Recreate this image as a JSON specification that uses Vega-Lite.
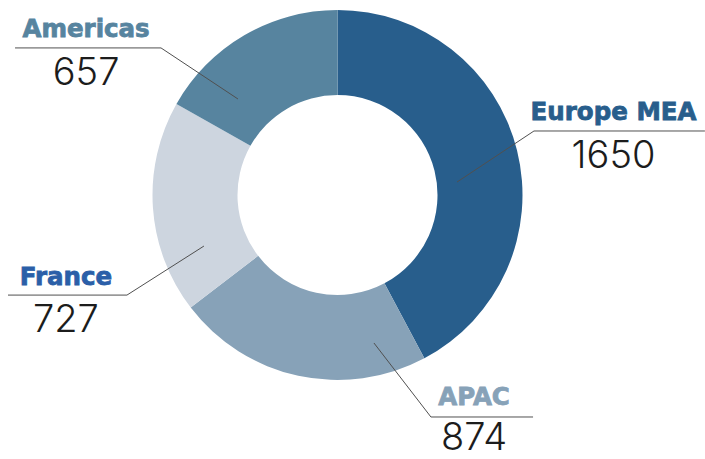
{
  "$schema": "https://vega.github.io/schema/vega-lite/v6.json",
  "width": 675,
  "height": 390,
  "autosize": {"type": "none"},
  "padding": {"left": 0, "top": 0, "right": 30, "bottom": 69},
  "background": "white",
  "config": {"view": {"stroke": null}},
  "data": {
    "values": [
      {"region": "Europe MEA", "value": 1650},
      {"region": "APAC", "value": 874},
      {"region": "France", "value": 727},
      {"region": "Americas", "value": 657}
    ]
  },
  "transform": [
    {"calculate": "indexof(['Europe MEA','APAC','France','Americas'], datum.region)", "as": "i"},
    {"calculate": "[64.6, 19.7, -72.2, -53.8][datum.i]", "as": "ax"},
    {"calculate": "[7.0, -80.0, -27.6, 51.9][datum.i]", "as": "ay"},
    {"calculate": "[106.2, 50.5, -113.8, -95.4][datum.i]", "as": "bx"},
    {"calculate": "[34.6, -120.0, -54.1, 79.5][datum.i]", "as": "by"},
    {"calculate": "[198.6, 105.7, -178.1, -174.3][datum.i]", "as": "cx"},
    {"calculate": "[149.2, 73.8, -146.8, -135.9][datum.i]", "as": "tx"},
    {"calculate": "[40.5, -113.5, -48.6, 85.4][datum.i]", "as": "ty"},
    {"calculate": "[14.6, -137.8, -74.1, 59.5][datum.i]", "as": "vy"}
  ],
  "layer": [
    {
      "mark": {"type": "arc", "outerRadius": 185, "innerRadius": 100},
      "encoding": {
        "theta": {"field": "value", "type": "quantitative", "stack": true},
        "order": {"field": "value", "type": "quantitative", "sort": "descending"},
        "color": {
          "field": "region", "type": "nominal", "legend": null,
          "scale": {"domain": ["Europe MEA", "APAC", "France", "Americas"], "range": ["#285e8c", "#87a2b8", "#cdd5df", "#57849f"]}
        }
      }
    },
    {
      "mark": {"type": "rule", "color": "#505050", "strokeWidth": 1},
      "encoding": {
        "x": {"field": "ax", "type": "quantitative", "axis": null, "scale": {"domain": [-182.43, 182.43], "nice": false, "zero": false}},
        "y": {"field": "ay", "type": "quantitative", "axis": null, "scale": {"domain": [-105.41, 105.41], "nice": false, "zero": false}},
        "x2": {"field": "bx"},
        "y2": {"field": "by"}
      }
    },
    {
      "mark": {"type": "rule", "color": "#505050", "strokeWidth": 1},
      "encoding": {
        "x": {"field": "bx", "type": "quantitative", "axis": null, "scale": {"domain": [-182.43, 182.43], "nice": false, "zero": false}},
        "y": {"field": "by", "type": "quantitative", "axis": null, "scale": {"domain": [-105.41, 105.41], "nice": false, "zero": false}},
        "x2": {"field": "cx"}
      }
    },
    {
      "mark": {"type": "text", "font": "DejaVu Sans", "fontWeight": "bold", "fontSize": 24.5, "strokeWidth": 0.8, "align": "center", "baseline": "alphabetic"},
      "encoding": {
        "x": {"field": "tx", "type": "quantitative", "axis": null, "scale": {"domain": [-182.43, 182.43], "nice": false, "zero": false}},
        "y": {"field": "ty", "type": "quantitative", "axis": null, "scale": {"domain": [-105.41, 105.41], "nice": false, "zero": false}},
        "text": {"field": "region"},
        "color": {
          "condition": {"test": "datum.region === 'France'", "value": "#2b5fa8"},
          "field": "region", "type": "nominal", "legend": null
        },
        "stroke": {
          "condition": {"test": "datum.region === 'France'", "value": "#2b5fa8"},
          "field": "region", "type": "nominal", "legend": null,
          "scale": {"domain": ["Europe MEA", "APAC", "France", "Americas"], "range": ["#285e8c", "#87a2b8", "#cdd5df", "#57849f"]}
        }
      }
    },
    {
      "mark": {"type": "text", "font": "Inter", "fontWeight": 300, "fontSize": 38, "align": "center", "baseline": "alphabetic", "color": "#1c1c1c"},
      "encoding": {
        "x": {"field": "tx", "type": "quantitative", "axis": null, "scale": {"domain": [-182.43, 182.43], "nice": false, "zero": false}},
        "y": {"field": "vy", "type": "quantitative", "axis": null, "scale": {"domain": [-105.41, 105.41], "nice": false, "zero": false}},
        "text": {"field": "value", "type": "quantitative", "format": "d"}
      }
    }
  ]
}
